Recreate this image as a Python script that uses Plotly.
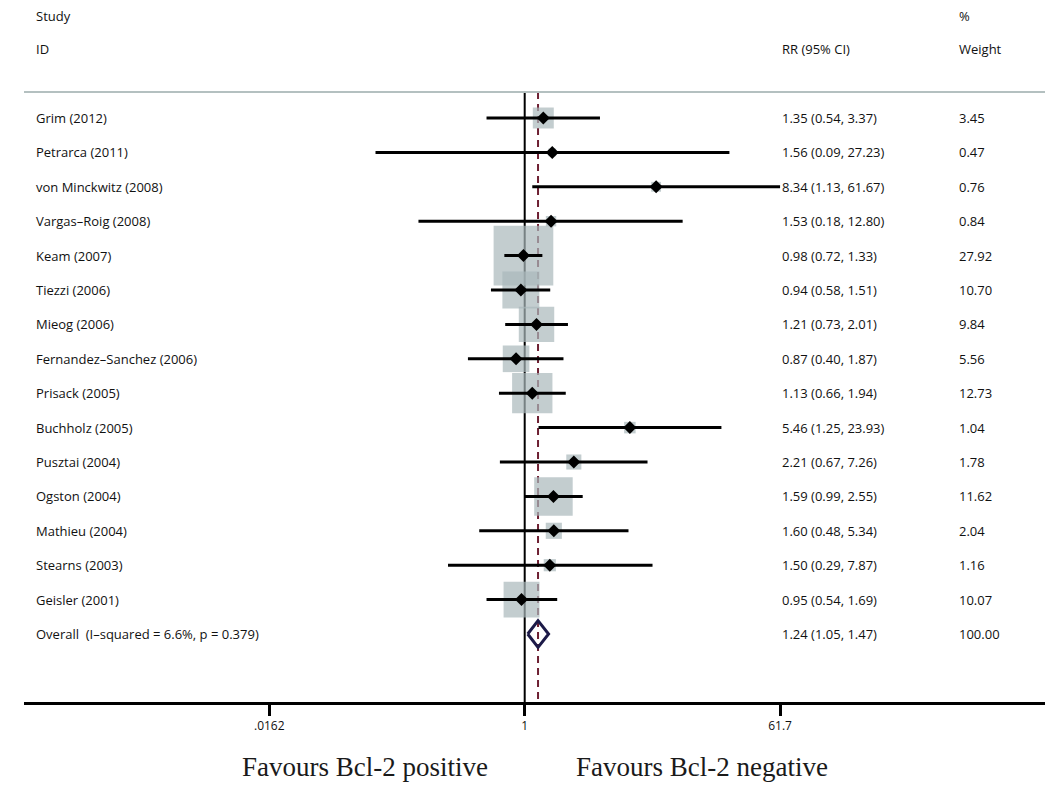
import plotly.graph_objects as go
import math

# ---------------- data ----------------
studies = ["Grim (2012)", "Petrarca (2011)", "von Minckwitz (2008)", "Vargas–Roig (2008)",
           "Keam (2007)", "Tiezzi (2006)", "Mieog (2006)", "Fernandez–Sanchez (2006)",
           "Prisack (2005)", "Buchholz (2005)", "Pusztai (2004)", "Ogston (2004)",
           "Mathieu (2004)", "Stearns (2003)", "Geisler (2001)"]
rr = [1.35, 1.56, 8.34, 1.53, 0.98, 0.94, 1.21, 0.87, 1.13, 5.46, 2.21, 1.59, 1.60, 1.50, 0.95]
ci_low = [0.54, 0.09, 1.13, 0.18, 0.72, 0.58, 0.73, 0.40, 0.66, 1.25, 0.67, 0.99, 0.48, 0.29, 0.54]
ci_high = [3.37, 27.23, 61.67, 12.80, 1.33, 1.51, 2.01, 1.87, 1.94, 23.93, 7.26, 2.55, 5.34, 7.87, 1.69]
weights = [3.45, 0.47, 0.76, 0.84, 27.92, 10.70, 9.84, 5.56, 12.73, 1.04, 1.78, 11.62, 2.04, 1.16, 10.07]

overall_label = "Overall  (I–squared = 6.6%, p = 0.379)"
overall_rr = 1.24
overall_low = 1.05
overall_high = 1.47
overall_weight = 100.00

tick_vals = [0.0162, 1, 61.7]
tick_text = [".0162", "1", "61.7"]
x_label_left = "Favours Bcl-2 positive"
x_label_right = "Favours Bcl-2 negative"

# ---------------- layout constants (screen pixels; page body has an 8px margin) ----------------
OFF = 8
W, H = 1053 - OFF, 786 - OFF
PLOT_LEFT, PLOT_BOTTOM = 24, 702          # screen px
ML = PLOT_LEFT - OFF
MB = H - (PLOT_BOTTOM - OFF)
ROW0, ROWSTEP = 118, 34.4                 # screen px of first row and row spacing

def row_of(p):
    return (p - ROW0) / ROWSTEP

n = len(studies)
rows = list(range(n))
overall_row = n
top_row = row_of(92)
bottom_row = row_of(PLOT_BOTTOM)
y_top = row_of(OFF)

def px(p):
    return (p - PLOT_LEFT) / (1053 - PLOT_LEFT)

text_font = dict(family="Open Sans, DejaVu Sans, sans-serif", size=13, color="#111111")

fig = go.Figure()

# reference lines (behind boxes)
fig.add_trace(go.Scatter(x=[1, 1], y=[top_row, bottom_row], mode="lines",
                         line=dict(color="black", width=2), hoverinfo="skip", showlegend=False))
fig.add_trace(go.Scatter(x=[overall_rr, overall_rr], y=[top_row, bottom_row], mode="lines",
                         line=dict(color="#6e2033", width=2, dash="7px,5px"),
                         hoverinfo="skip", showlegend=False))

# weight boxes
box_sizes = [11.3 * math.sqrt(w) for w in weights]
fig.add_trace(go.Scatter(x=rr, y=rows, mode="markers",
                         marker=dict(symbol="square", size=box_sizes, color="#a9b8bb",
                                     line=dict(width=0)),
                         cliponaxis=False, hoverinfo="skip", showlegend=False))

# CI lines
cx, cy = [], []
for r, lo, hi in zip(rows, ci_low, ci_high):
    cx += [lo, hi, None]
    cy += [r, r, None]
fig.add_trace(go.Scatter(x=cx, y=cy, mode="lines", line=dict(color="black", width=3),
                         hoverinfo="skip", showlegend=False))

# point estimates
fig.add_trace(go.Scatter(x=rr, y=rows, mode="markers",
                         marker=dict(symbol="diamond", size=10, color="black"),
                         hoverinfo="skip", showlegend=False))

# overall diamond
dh = 0.39
fig.add_trace(go.Scatter(x=[overall_low, overall_rr, overall_high, overall_rr, overall_low],
                         y=[overall_row, overall_row - dh, overall_row, overall_row + dh, overall_row],
                         mode="lines", line=dict(color="#1c1a48", width=3),
                         hoverinfo="skip", showlegend=False))

# separator line
fig.add_shape(type="line", xref="paper", yref="y", x0=px(24), x1=px(1048),
              y0=top_row, y1=top_row, line=dict(color="#b4c0c0", width=2))

ann = []
def txt(xp, y, s):
    ann.append(dict(x=px(xp), y=y, xref="paper", yref="y", text=s, showarrow=False,
                    xanchor="left", yanchor="middle", font=text_font))

# headers
txt(34, row_of(16), "Study")
txt(34, row_of(49), "ID")
txt(780, row_of(49), "RR (95% CI)")
txt(957, row_of(16), "%")
txt(957, row_of(49), "Weight")

for r, s, v, lo, hi, w in zip(rows, studies, rr, ci_low, ci_high, weights):
    txt(34, r, s)
    txt(780, r, f"{v:.2f} ({lo:.2f}, {hi:.2f})")
    txt(957, r, f"{w:.2f}")
txt(34, overall_row, overall_label)
txt(780, overall_row, f"{overall_rr:.2f} ({overall_low:.2f}, {overall_high:.2f})")
txt(957, overall_row, f"{overall_weight:.2f}")

serif = dict(family="Liberation Serif, DejaVu Serif, serif", size=27, color="#1a1a1a")
ylab = -(767 - PLOT_BOTTOM) / (PLOT_BOTTOM - OFF)
ann.append(dict(x=px(365), y=ylab, xref="paper", yref="paper",
                text=x_label_left, showarrow=False, xanchor="center", yanchor="middle", font=serif))
ann.append(dict(x=px(702), y=ylab, xref="paper", yref="paper",
                text=x_label_right, showarrow=False, xanchor="center", yanchor="middle", font=serif))

ppd = 142.66
x0 = (PLOT_LEFT - 524.7) / ppd
x1 = (1053 - 524.7) / ppd

fig.update_layout(
    width=W, height=H,
    margin=dict(l=ML, r=0, t=0, b=MB),
    paper_bgcolor="white", plot_bgcolor="white",
    annotations=ann,
    xaxis=dict(type="log", range=[x0, x1], showgrid=False, zeroline=False,
               showline=True, linecolor="black", linewidth=3,
               ticks="outside", ticklen=11, tickwidth=2.5, tickcolor="black",
               tickvals=tick_vals, ticktext=tick_text,
               tickfont=dict(family="Open Sans, DejaVu Sans, sans-serif", size=12, color="#111111"),
               fixedrange=True),
    yaxis=dict(range=[bottom_row, y_top], visible=False, fixedrange=True),
    showlegend=False,
)

fig.write_html("out.html")
